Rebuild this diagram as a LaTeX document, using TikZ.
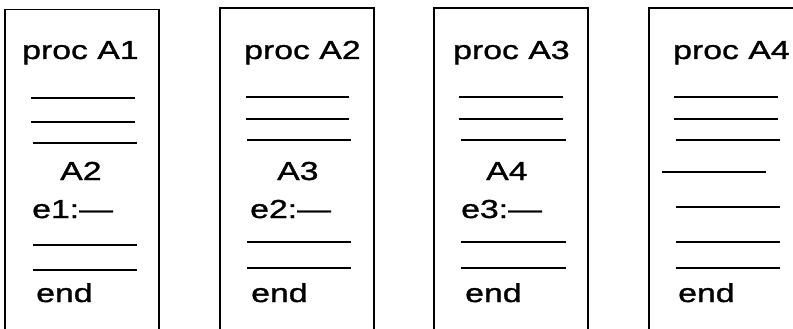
\documentclass[tikz,border=0pt]{standalone}
\usepackage{fontspec}
\setmainfont{Liberation Sans}[FakeStretch=1.3,FakeBold=1.2]
\usepackage{tikz}

\tikzset{
  frame/.style={line width=1.3pt},
  rule/.style={line width=1.2pt},
  stmt/.style={anchor=base west,inner sep=0pt,font=\fontsize{26}{30}\selectfont},
}

\begin{document}
\begin{tikzpicture}[x=1pt,y=-1pt]
  \def\W{154}
  \useasboundingbox (0,0) rectangle (793,329);
  \clip (0,0) rectangle (793,329);

  % --- proc A1 ---
  \begin{scope}[xshift=5pt]
    \draw[frame] (0,340) -- (0,9.5) -- (\W,9.5) -- (\W,340);
    \node[stmt] (head1) at (17,59) {proc A1};
    \draw[rule] (26,98) -- (130,98);
    \draw[rule] (26,122) -- (130,122);
    \draw[rule] (28,143) -- (132,143);
    \node[stmt] (call1) at (55,180) {A2};
    \node[stmt] (exit1) at (27,218) {e1:—};
    \draw[rule] (28,245) -- (132,245);
    \draw[rule] (28,270) -- (132,270);
    \node[stmt] (tail1) at (31,302) {end};
  \end{scope}

  % --- proc A2 ---
  \begin{scope}[xshift=220pt]
    \draw[frame] (0,340) -- (0,8) -- (\W,8) -- (\W,340);
    \node[stmt] (head2) at (24,59) {proc A2};
    \draw[rule] (26,97) -- (129,97);
    \draw[rule] (26,119) -- (129,119);
    \draw[rule] (27,140) -- (131,140);
    \node[stmt] (call2) at (57,180) {A3};
    \node[stmt] (exit2) at (30,218) {e2:—};
    \draw[rule] (27,242) -- (131,242);
    \draw[rule] (27,268) -- (131,268);
    \node[stmt] (tail2) at (31,302) {end};
  \end{scope}

  % --- proc A3 ---
  \begin{scope}[xshift=434pt]
    \draw[frame] (0,340) -- (0,8) -- (\W,8) -- (\W,340);
    \node[stmt] (head3) at (19,59) {proc A3};
    \draw[rule] (25,97) -- (129,97);
    \draw[rule] (25,119) -- (129,119);
    \draw[rule] (27,140) -- (132,140);
    \node[stmt] (call3) at (52,180) {A4};
    \node[stmt] (exit3) at (27,218) {e3:—};
    \draw[rule] (27,242) -- (132,242);
    \draw[rule] (27,268) -- (132,268);
    \node[stmt] (tail3) at (31,302) {end};
  \end{scope}

  % --- proc A4 (no further call) ---
  \begin{scope}[xshift=649pt]
    \draw[frame] (0,340) -- (0,8) -- (\W,8) -- (\W,340);
    \node[stmt] (head4) at (24,59) {proc A4};
    \draw[rule] (25,97) -- (129,97);
    \draw[rule] (25,119) -- (129,119);
    \draw[rule] (27,140) -- (131,140);
    \draw[rule] (13,172) -- (117,172);
    \draw[rule] (27,207) -- (131,207);
    \draw[rule] (27,242) -- (131,242);
    \draw[rule] (27,268) -- (131,268);
    \node[stmt] (tail4) at (29,302) {end};
  \end{scope}
\end{tikzpicture}
\end{document}
